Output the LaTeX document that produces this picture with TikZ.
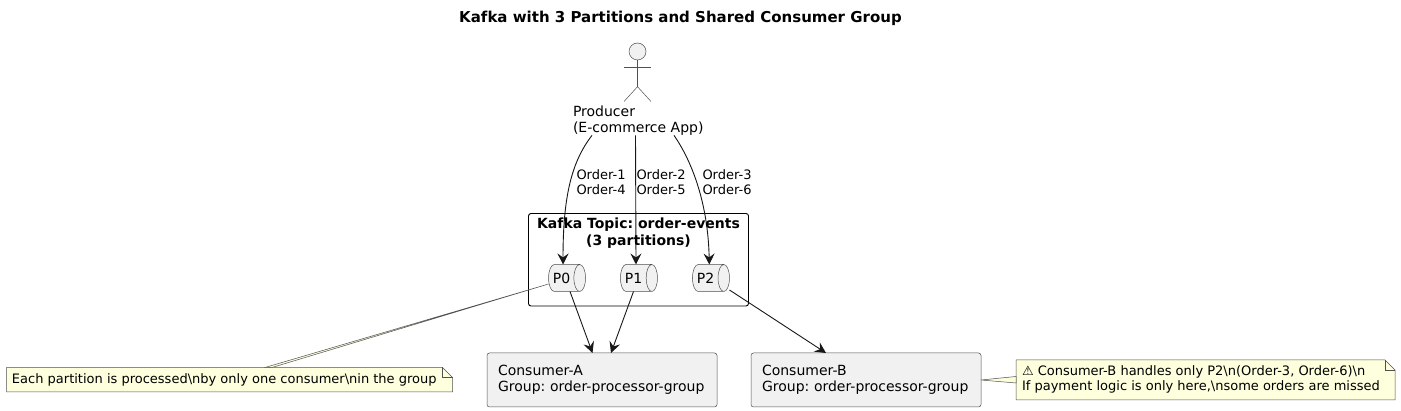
\documentclass[tikz,border=0pt]{standalone}
\usepackage{fontspec}
\setmainfont{DejaVu Sans}
\usetikzlibrary{arrows.meta,shapes.geometric,calc}
\definecolor{ink}{HTML}{181818}
\definecolor{thinink}{HTML}{505050}
\definecolor{nodefill}{HTML}{F1F1F1}
\definecolor{notefill}{HTML}{FEFFDD}
\tikzset{
  every node/.style={inner sep=0pt,outer sep=0pt},
  thin line/.style={draw=thinink,line width=0.5pt},
  conn/.style={draw=ink,line width=0.9pt,-{Stealth[length=11pt,width=11pt,inset=4pt]}},
  tail/.style={draw=thinink,line width=0.5pt,fill=notefill},
  lbl/.style={font=\fontsize{13}{15}\selectfont,align=left,anchor=north west},
  txt/.style={font=\fontsize{14}{16.3}\selectfont,align=left,anchor=north west},
  partition/.style={cylinder,shape aspect=1.1,draw=thinink,line width=0.5pt,fill=nodefill,
    minimum width=27pt,minimum height=37pt,font=\fontsize{14}{16}\selectfont,cylinder uses custom fill,
    cylinder body fill=nodefill,cylinder end fill=nodefill},
  consumer/.style={draw=thinink,line width=0.5pt,fill=nodefill,rounded corners=2.5pt,
    minimum width=230pt,minimum height=54pt,text width=230pt,align=left,
    font=\fontsize{14}{16.3}\selectfont},
  notebox/.style={minimum height=0pt,font=\fontsize{13}{15}\selectfont,align=left},
  topic/.style={draw=black,line width=0.9pt,rounded corners=2.5pt,minimum width=220pt,minimum height=92.5pt}
}
\newcommand{\notepoly}[1]{%
  \draw[thin line,fill=notefill]
    (#1.north west) -- ($(#1.north east)+(-10pt,0)$) -- ($(#1.north east)+(0,-10pt)$)
    -- (#1.south east) -- (#1.south west) -- cycle;
  \draw[thin line] ($(#1.north east)+(-10pt,0)$) -- ($(#1.north east)+(-10pt,-10pt)$) -- ($(#1.north east)+(0,-10pt)$);
}
\begin{document}
\frenchspacing
\begin{tikzpicture}[x=1pt,y=-1pt]
\useasboundingbox (0,0) rectangle (1401,411);
\fill[white] (0,0) rectangle (1401,411);

\node[font=\bfseries\fontsize{15}{17}\selectfont] (title) at (680.5,18) {Kafka with 3 Partitions and Shared Consumer Group};

% actor
\node[circle,draw=thinink,line width=0.5pt,fill=nodefill,minimum size=17pt] (head) at (637.5,51.5) {};
\coordinate (neck) at (head.south);
\coordinate (hip) at (637.5,86.7);
\draw[thin line] (neck) -- (hip);
\coordinate (shl) at (624,67.5); \coordinate (shr) at (651,67.5);
\coordinate (ftl) at (624,101.5); \coordinate (ftr) at (651,101.5);
\draw[thin line] (shl) -- (shr);
\draw[thin line] (ftl) -- (hip) -- (ftr);
\node[txt,minimum width=130pt] (prod) at (573,105.5) {Producer\\(E-commerce App)};

% topic
\node[topic,anchor=north west] (topicbox) at (528.5,213.5) {};
\node[partition] (p0) at (564,278) {\hspace*{-5pt}P0};
\node[partition] (p1) at (636,278) {\hspace*{-5pt}P1};
\node[partition] (p2) at (708,278) {\hspace*{-5pt}P2};

% consumers
\node[consumer,anchor=north west] (ca) at (487,353) {\hspace*{11pt}Consumer-A\\\hspace*{11pt}Group: order-processor-group};
\node[consumer,anchor=north west] (cb) at (751,353) {\hspace*{11pt}Consumer-B\\\hspace*{11pt}Group: order-processor-group};

% notes
\node[notebox,anchor=north west,minimum width=446pt,minimum height=24.5pt] (nl) at (6.5,367.5) {};
\node[notebox,anchor=north west,minimum width=379pt,minimum height=40pt] (nr) at (1016,360) {};
\notepoly{nl}
\notepoly{nr}
\node[notebox,anchor=west] (nlt) at (12,380) {Each partition is processed\textbackslash nby only one consumer\textbackslash nin the group};
\node[notebox,anchor=north west] (nrt) at (1022,365.5) {⚠ Consumer-B handles only P2\textbackslash n(Order-3, Order-6)\textbackslash n\\If payment logic is only here,\textbackslash nsome orders are missed};

% note tails
\coordinate (pl) at ([yshift=-6pt]p0.west);
\draw[tail] (pl) -- ([xshift=258.5pt]nl.north west) -- ([xshift=265.5pt]nl.north west) -- cycle;
\coordinate (cbr) at (cb.east);
\draw[tail] (cbr) -- ([yshift=-16.5pt]nr.north west) -- ([yshift=-23pt]nr.north west) -- cycle;

% arrows
\draw[conn] ([xshift=19pt]prod.south west) .. controls +(-20,26) and (563,195) .. ([xshift=-1pt]p0.north);
\draw[conn] ([xshift=62.5pt]prod.south west) -- (p1.north);
\draw[conn] ([xshift=101pt]prod.south west) .. controls +(16,23) and (708,200) .. ([xshift=1.3pt]p2.north);
\draw[conn] ([xshift=6pt]p0.south) -- ([xshift=105.5pt]ca.north west);
\draw[conn] ([xshift=-2.5pt]p1.south) -- ([xshift=124pt]ca.north west);
\draw[conn] ([yshift=-12pt]p2.east) -- ([xshift=75pt]cb.north west);

\node[font=\bfseries\fontsize{14}{16.3}\selectfont,align=center] (topictitle) at (638.5,233) {Kafka Topic: order-events\\(3 partitions)};

% labels
\node[lbl] (l1) at (576.5,170) {Order-1\\Order-4};
\node[lbl] (l2) at (636.5,170) {Order-2\\Order-5};
\node[lbl] (l3) at (702.5,170) {Order-3\\Order-6};
\end{tikzpicture}
\end{document}
